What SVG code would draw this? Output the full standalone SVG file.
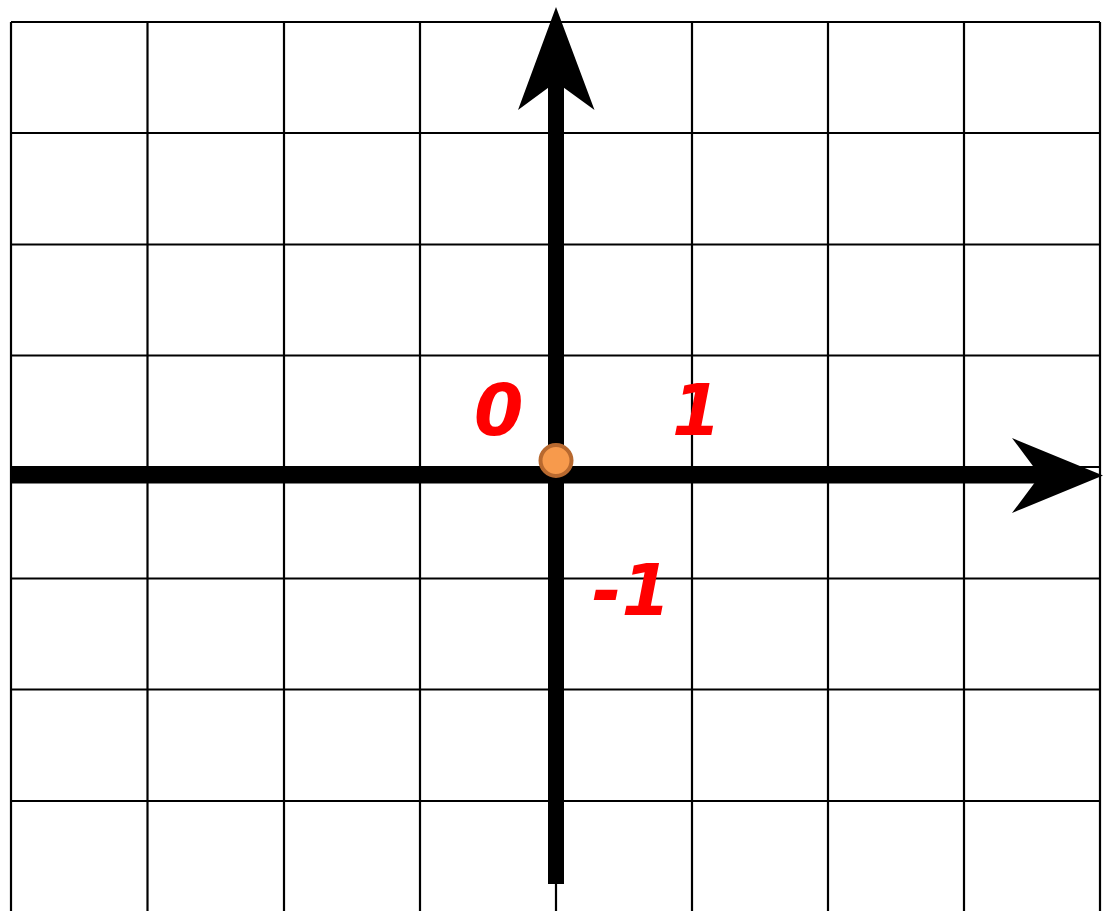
<svg xmlns="http://www.w3.org/2000/svg" width="1103" height="911" viewBox="0 0 1103 911">
<style>
.grid line{stroke:#000;stroke-width:2.2}
.lbl{font-family:"DejaVu Sans",sans-serif;font-weight:bold;font-style:italic;font-size:71px;fill:#ff0000}
</style>
<rect width="1103" height="911" fill="#fff"/>
<g id="grid" class="grid">
<line x1="11" y1="22" x2="11" y2="911"/>
<line x1="147.5" y1="22" x2="147.5" y2="911"/>
<line x1="284" y1="22" x2="284" y2="911"/>
<line x1="420" y1="22" x2="420" y2="911"/>
<line x1="556" y1="22" x2="556" y2="911"/>
<line x1="692" y1="22" x2="692" y2="911"/>
<line x1="828" y1="22" x2="828" y2="911"/>
<line x1="964" y1="22" x2="964" y2="911"/>
<line x1="1100" y1="22" x2="1100" y2="911"/>
<line x1="11" y1="22" x2="1100" y2="22"/>
<line x1="11" y1="133" x2="1100" y2="133"/>
<line x1="11" y1="244.5" x2="1100" y2="244.5"/>
<line x1="11" y1="355.5" x2="1100" y2="355.5"/>
<line x1="11" y1="467" x2="1100" y2="467"/>
<line x1="11" y1="578.5" x2="1100" y2="578.5"/>
<line x1="11" y1="689.5" x2="1100" y2="689.5"/>
<line x1="11" y1="801" x2="1100" y2="801"/>
</g>
<g id="connectors">
<g id="x-axis">
<rect x="11" y="467" width="1035" height="16.5" fill="#000"/>
<polygon points="1103,475.5 1012,438 1040,475.5 1012,513" fill="#000"/>
</g>
<g id="y-axis">
<rect x="548" y="75" width="16" height="809" fill="#000"/>
<polygon points="556,7 594.5,110 556,82 518,110" fill="#000"/>
</g>
</g>
<g id="origin">
<circle cx="556" cy="460.5" r="15.5" fill="#f79a4c" stroke="#b8692f" stroke-width="4"/>
</g>
<g id="label-0"><text class="lbl" x="474" y="435">0</text></g>
<g id="label-1"><text class="lbl" x="672" y="435">1</text></g>
<g id="label-m1"><text class="lbl" x="592" y="615">-1</text></g>
</svg>
